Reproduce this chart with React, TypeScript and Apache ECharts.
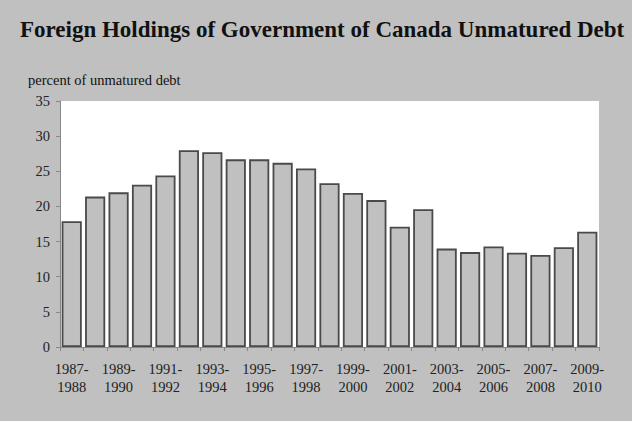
import React, { useEffect, useRef } from "react";
import * as echarts from "echarts";

const categories = [
  "1987-\n1988", "1988-\n1989", "1989-\n1990", "1990-\n1991", "1991-\n1992", "1992-\n1993",
  "1993-\n1994", "1994-\n1995", "1995-\n1996", "1996-\n1997", "1997-\n1998", "1998-\n1999",
  "1999-\n2000", "2000-\n2001", "2001-\n2002", "2002-\n2003", "2003-\n2004", "2004-\n2005",
  "2005-\n2006", "2006-\n2007", "2007-\n2008", "2008-\n2009", "2009-\n2010",
];
const values = [
  17.9, 21.4, 22.0, 23.1, 24.4, 28.0, 27.7, 26.7, 26.7, 26.2, 25.4, 23.3,
  21.9, 20.9, 17.1, 19.6, 14.0, 13.5, 14.3, 13.4, 13.1, 14.2, 16.4,
];
const yTicks = [0, 5, 10, 15, 20, 25, 30, 35];

const FONT = "'Liberation Serif', 'Times New Roman', serif";

export default function App() {
  const ref = useRef<HTMLDivElement>(null);
  useEffect(() => {
    document.body.style.margin = "0";
    const chart = echarts.init(ref.current!, null, { renderer: "svg" });
    chart.setOption({
      animation: false,
      backgroundColor: "#c0c0c0",
      title: {
        text: "Foreign Holdings of Government of Canada Unmatured Debt",
        left: 15,
        top: 13,
        textStyle: { fontFamily: FONT, fontWeight: "bold", fontSize: 23, color: "#111" },
      },
      graphic: [
        {
          type: "text",
          left: 28,
          top: 72,
          style: { text: "percent of unmatured debt", fontFamily: FONT, fontSize: 14.5, fill: "#111" },
        },
      ],
      grid: {
        left: 60,
        right: 33,
        top: 101,
        bottom: 74,
        show: true,
        backgroundColor: "#ffffff",
        borderWidth: 0,
      },
      xAxis: {
        type: "category",
        data: categories,
        axisLine: { lineStyle: { color: "#888", width: 1 } },
        axisTick: { show: true, alignWithLabel: false, interval: 0, length: 4, lineStyle: { color: "#888" } },
        axisLabel: {
          interval: 1,
          fontFamily: FONT,
          fontSize: 14.5,
          color: "#222",
          lineHeight: 18,
          margin: 13,
        },
      },
      yAxis: {
        type: "value",
        min: yTicks[0],
        max: yTicks[yTicks.length - 1],
        interval: 5,
        axisLine: { show: true, lineStyle: { color: "#888" } },
        axisTick: { show: true, length: 4, lineStyle: { color: "#888" } },
        splitLine: { show: false },
        axisLabel: { fontFamily: FONT, fontSize: 14.5, color: "#222", margin: 10 },
      },
      series: [
        {
          type: "bar",
          data: values,
          barCategoryGap: "14%",
          itemStyle: { color: "#c0c0c0", borderColor: "#4a4a4a", borderWidth: 1.8 },
        },
      ],
    });
    return () => chart.dispose();
  }, []);
  return <div ref={ref} style={{ width: 632, height: 421 }} />;
}
